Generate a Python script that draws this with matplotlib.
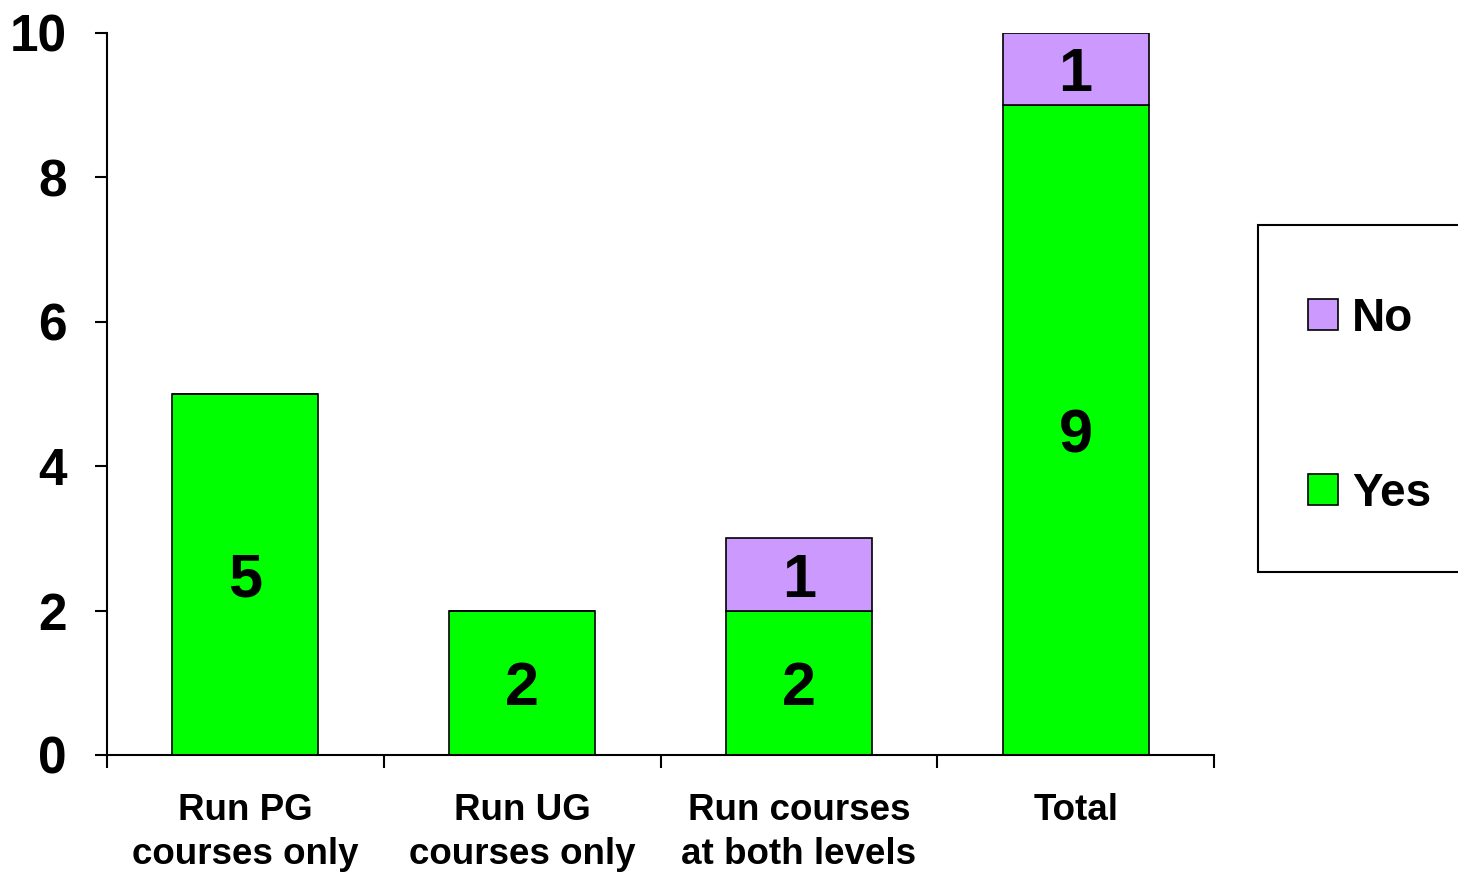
import matplotlib
matplotlib.use("Agg")
import matplotlib.pyplot as plt
from matplotlib.patches import Patch, Rectangle
import numpy as np

categories = ["Run PG\ncourses only", "Run UG\ncourses only",
              "Run courses\nat both levels", "Total"]
yes_counts = [5, 2, 2, 9]
no_counts = [0, 0, 1, 1]
y_ticks = [0, 2, 4, 6, 8, 10]

GREEN = "#00FF00"
PURPLE = "#CC99FF"

plt.rcParams["font.family"] = ["Liberation Sans", "DejaVu Sans"]
plt.rcParams["font.weight"] = "bold"

W, H = 1458, 874
fig = plt.figure(figsize=(W / 100, H / 100), dpi=100)
ax = fig.add_axes([107 / W, 1 - 755 / H, (1214 - 107) / W, (755 - 33) / H])

x = np.arange(len(categories))
width = 0.528

ax.bar(x, yes_counts, width, color=GREEN, edgecolor="black", linewidth=1.2, zorder=3)
ax.bar(x, no_counts, width, bottom=yes_counts, color=PURPLE, edgecolor="black",
       linewidth=1.2, zorder=3)


def label_segment(xc, yc, value):
    # baseline placed so the digit's ink sits centred on the segment
    ax.annotate(str(value), xy=(xc, yc), xytext=(0, -16), textcoords="offset points",
                ha="center", va="baseline", fontsize=44, fontweight="bold", zorder=4)


for xi, y, n in zip(x, yes_counts, no_counts):
    if y > 0:
        label_segment(xi, y / 2, y)
    if n > 0:
        label_segment(xi, y + n / 2, n)

ax.set_xlim(-0.5, len(categories) - 0.5)
ax.set_ylim(0, 10)

ax.set_yticks(y_ticks)
ax.set_yticklabels([str(t) for t in y_ticks], fontsize=37, fontweight="bold")
ax.tick_params(axis="y", direction="out", length=9, width=1.5, pad=20)

ax.set_xticks(x)
ax.set_xticklabels(categories, fontsize=26.5, fontweight="bold", linespacing=1.35)
ax.tick_params(axis="x", which="major", length=0, pad=27)
ax.set_xticks(np.arange(len(categories) + 1) - 0.5, minor=True)
ax.tick_params(axis="x", which="minor", direction="out", length=9, width=1.5)

for side in ("top", "right"):
    ax.spines[side].set_visible(False)
for side in ("left", "bottom"):
    ax.spines[side].set_linewidth(1.5)
    ax.spines[side].set_zorder(5)

# legend frame
fig.patches.append(Rectangle((1258 / W, 1 - 572 / H), (1475 - 1258) / W, (572 - 225) / H,
                             transform=fig.transFigure, facecolor="white",
                             edgecolor="black", linewidth=1.5, zorder=1))

handles = [Patch(facecolor=PURPLE, edgecolor="black", linewidth=1.2),
           Patch(facecolor=GREEN, edgecolor="black", linewidth=1.2)]
leg = fig.legend(handles, ["No", "Yes"], loc="upper left",
                 bbox_to_anchor=(1308 / W, 1 - 297 / H),
                 prop={"family": "Liberation Sans", "weight": "bold", "size": 33},
                 frameon=False, borderpad=0, labelspacing=2.85,
                 handlelength=0.66, handleheight=0.66,
                 handletextpad=0.3, borderaxespad=0)
leg.set_zorder(2)

fig.savefig("out.png", dpi=100)
